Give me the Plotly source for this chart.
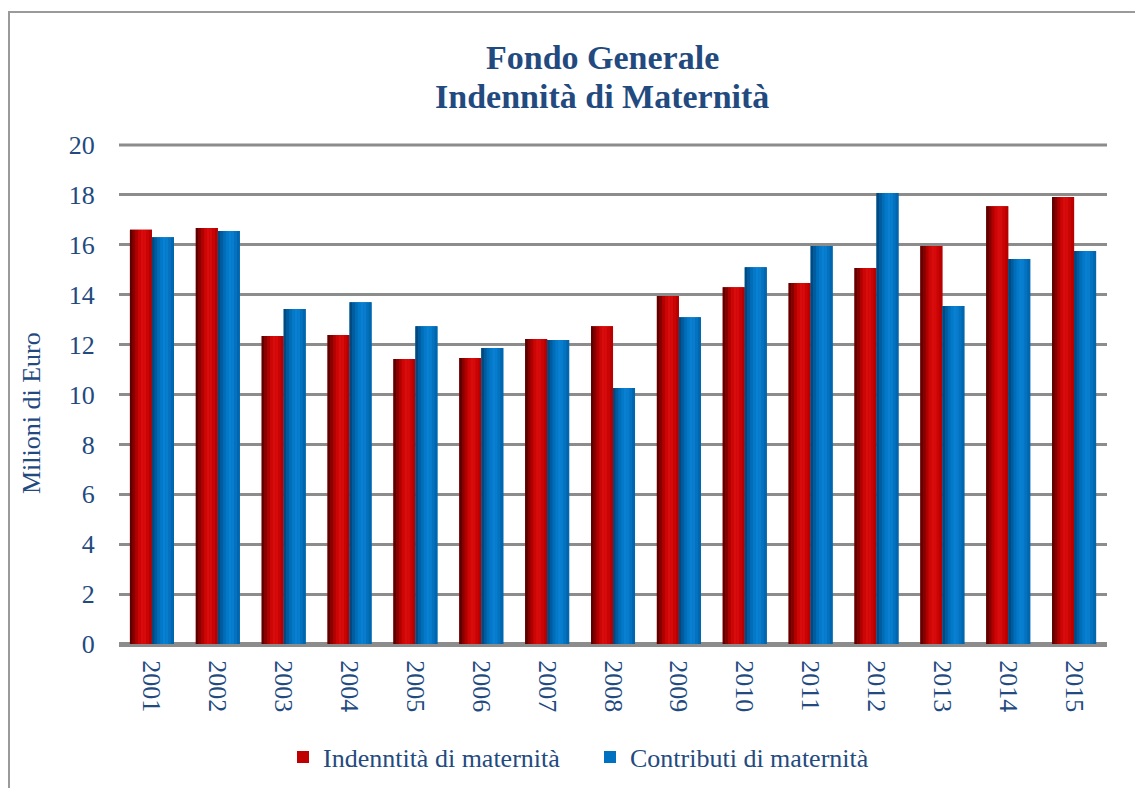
import plotly.graph_objects as go

# Dati: milioni di euro per anno
anni = ["2001", "2002", "2003", "2004", "2005", "2006", "2007", "2008",
        "2009", "2010", "2011", "2012", "2013", "2014", "2015"]
indennita = [16.6, 16.67, 12.34, 12.38, 11.42, 11.46, 12.22, 12.74,
             13.95, 14.3, 14.47, 15.07, 15.95, 17.55, 17.92]
contributi = [16.3, 16.55, 13.43, 13.7, 12.74, 11.86, 12.18, 10.26,
              13.1, 15.1, 15.95, 18.08, 13.55, 15.43, 15.75]

nomi = ["Indenntità di maternità", "Contributi di maternità"]
colori = ["#C00000", "#0070C0"]
titolo = ["Fondo Generale", "Indennità di Maternità"]
titolo_asse_y = "Milioni di Euro"
Y_MAX = 20

# sfumature cilindriche (da sinistra a destra)
sfumature_rosse = ["#5E0000", "#860000", "#B00000", "#CC0505", "#D80C0C",
                   "#D60A0A", "#C80404", "#B80000"]
sfumature_blu = ["#004A80", "#005C9E", "#006DB8", "#0479C8", "#0A80D2",
                 "#087DCE", "#0472BE", "#0066AE"]

TESTO = "#234A7F"
GRIGIO = "#8C8C8C"
FONT = "Liberation Serif, Times New Roman, serif"
LARG = 0.334

W, H = 1135, 788
ML, MR, MT, MB = 119, 28, 145, 144
PW, PH = W - ML - MR, H - MT - MB


def px_x(x):
    return (x - ML) / PW


def px_y(y):
    return (H - MB - y) / PH


fig = go.Figure()


def barre_sfumate(valori, nome, colore, sfumature, inizio):
    n = len(sfumature)
    w = LARG / n
    # traccia per la legenda
    fig.add_trace(go.Bar(x=anni, y=valori, name=nome, marker_color=colore,
                         offset=inizio, width=LARG, marker_line_width=0,
                         hoverinfo="y"))
    for i, c in enumerate(sfumature):
        fig.add_trace(go.Bar(x=anni, y=valori, marker_color=c,
                             offset=inizio + i * w, width=w * 1.02,
                             marker_line_width=0, showlegend=False,
                             hoverinfo="skip"))


barre_sfumate(indennita, nomi[0], colori[0], sfumature_rosse, -LARG)
barre_sfumate(contributi, nomi[1], colori[1], sfumature_blu, 0.0)

# linea della griglia sul bordo superiore dell'area (valore massimo)
fig.add_shape(type="line", xref="paper", yref="paper", x0=0, x1=1,
              y0=1, y1=1, line=dict(color=GRIGIO, width=3),
              layer="below")

# cornice del grafico
fig.add_shape(type="rect", xref="paper", yref="paper",
              x0=px_x(9), x1=px_x(W + 20), y0=px_y(H + 20), y1=px_y(12),
              line=dict(color="#9A9A9A", width=2), fillcolor="rgba(0,0,0,0)",
              layer="below")

# titolo su due righe
for riga, ypix in zip(titolo, [58, 97]):
    fig.add_annotation(text=f"<b>{riga}</b>", xref="paper", yref="paper",
                       x=px_x(602), y=px_y(ypix), xanchor="center",
                       yanchor="middle", showarrow=False,
                       font=dict(family=FONT, size=34, color=TESTO))

# titolo asse y
fig.add_annotation(text=titolo_asse_y, xref="paper", yref="paper",
                   x=px_x(31), y=px_y(413), xanchor="center",
                   yanchor="middle", textangle=-90, showarrow=False,
                   font=dict(family=FONT, size=26, color=TESTO))

fig.update_layout(
    width=W, height=H,
    barmode="overlay",
    paper_bgcolor="white", plot_bgcolor="white",
    margin=dict(l=ML, r=MR, t=MT, b=MB, autoexpand=False),
    font=dict(family=FONT, size=26, color=TESTO),
    xaxis=dict(type="category", tickangle=90, showgrid=False,
               ticks="outside", ticklen=10, tickcolor="rgba(0,0,0,0)",
               tickfont=dict(size=26, color=TESTO),
               showline=False, automargin=False),
    yaxis=dict(range=[0, Y_MAX], dtick=2, showgrid=True, gridcolor=GRIGIO,
               gridwidth=3, zeroline=True, zerolinecolor=GRIGIO,
               zerolinewidth=5, ticks="outside", ticklen=18,
               tickcolor="rgba(0,0,0,0)",
               tickfont=dict(size=26, color=TESTO), automargin=False),
    legend=dict(orientation="h", x=px_x(283), xanchor="left",
                y=px_y(757), yanchor="middle",
                font=dict(size=26, color=TESTO),
                traceorder="normal", itemwidth=30,
                entrywidth=262, entrywidthmode="pixels"),
    showlegend=True,
)

fig.write_html("out.html")
